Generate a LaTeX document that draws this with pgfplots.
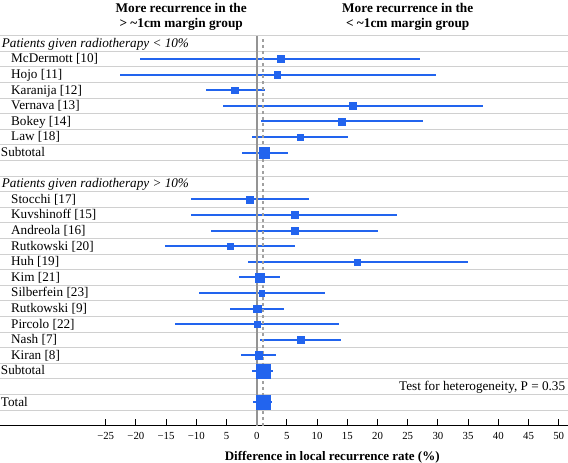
\documentclass[border=0pt]{standalone}
\usepackage{fontspec}
\setmainfont{Liberation Serif}
\usepackage{pgfplots}
\usepackage{pgfplotstable}
\pgfplotsset{compat=1.18}
\definecolor{myblue}{RGB}{34,100,238}
\definecolor{zerogray}{RGB}{148,148,148}
\definecolor{dashgray}{RGB}{160,160,160}
\definecolor{gridgray}{RGB}{208,208,208}

\pgfplotstableread{
y    m     lo     hi    s
23.5 3.9   -19.3  27.0  7.5
22.5 3.4   -22.7  29.7  7.0
21.5 -3.65 -8.4   1.3   7.0
20.5 15.9  -5.6   37.5  7.0
19.5 14.1  0.7    27.5  7.5
18.5 7.2   -0.8   15.1  7.0
17.5 1.3   -2.5   5.1   10.5
14.5 -1.1  -10.9  8.7   7.5
13.5 6.3   -10.8  23.3  7.2
12.5 6.3   -7.6   20.1  7.0
11.5 -4.4  -15.1  6.4   7.0
10.5 16.7  -1.4   35.0  6.6
9.5  0.45  -2.9   3.9   9.0
8.5  0.8   -9.6   11.3  5.8
7.5  0.05  -4.4   4.6   8.0
6.5  0.05  -13.5  13.6  7.0
5.5  7.3   0.55   14.0  8.0
4.5  0.35  -2.6   3.2   8.0
3.5  1.05  -0.7   2.75  14.0
1.5  1.05  -0.55  2.6   15.0
}\datatab

\begin{document}
\begin{tikzpicture}
\begin{axis}[
  at={(0,0)}, anchor=south west,
  scale only axis, width=568pt, height=390pt,
  xmin=-42.5, xmax=51.54, ymin=0, ymax=25,
  clip=false,
  axis x line=bottom, axis y line=left,
  x axis line style={-, black, line width=1pt},
  y axis line style={draw=none},
  xtick={-25,-20,...,50},
  xticklabels={−25,−20,−15,−10,5,0,5,10,15,20,25,30,35,40,45,50},
  xtick style={black, line width=0.9pt},
  tick align=inside, major tick length=6.7pt,
  xticklabel style={font=\fontsize{10.8}{12}\selectfont, yshift=-3pt},
  ytick={1,...,25}, yticklabels={}, ytick style={draw=none},
  ymajorgrids, grid style={gridgray, line width=1.1pt},
]
\addplot[
  only marks, mark=square*,
  scatter, point meta=explicit,
  scatter/use mapped color={draw=myblue, fill=myblue},
  visualization depends on={\thisrow{s}/2-0.2 \as \ms},
  scatter/@pre marker code/.append style={/tikz/mark size=\ms pt},
  error bars/.cd, x dir=both, x explicit, error mark=none,
  error bar style={draw=myblue, line width=2pt},
] table[x=m, y=y, meta=s,
  x error plus expr=\thisrow{hi}-\thisrow{m},
  x error minus expr=\thisrow{m}-\thisrow{lo}] {\datatab};

\addplot[zerogray, line width=1.9pt] coordinates {(0,0) (0,25)};
\addplot[dashgray, line width=1.6pt, dash pattern=on 3pt off 3pt] coordinates {(1.0,0) (1.0,25)};

% titles
\node[anchor=base, font=\bfseries\fontsize{13.3}{15}\selectfont] at (axis cs:-12.5,26.47) {More recurrence in the};
\node[anchor=base, font=\bfseries\fontsize{13.3}{15}\selectfont] at (axis cs:-12.5,25.54) {> \textasciitilde 1cm margin group};
\node[anchor=base, font=\bfseries\fontsize{13.3}{15}\selectfont] at (axis cs:25,26.47) {More recurrence in the};
\node[anchor=base, font=\bfseries\fontsize{13.3}{15}\selectfont] at (axis cs:25,25.54) {< \textasciitilde 1cm margin group};

% row labels
\tikzset{lab/.style={anchor=base west, inner sep=0pt, font=\fontsize{13.2}{15}\selectfont}}
\node[lab, font=\itshape\fontsize{13.2}{15}\selectfont] at (axis cs:-42.22,24.25) {Patients given radiotherapy < 10\%};
\node[lab] at (axis cs:-40.68,23.25) {McDermott [10]};
\node[lab] at (axis cs:-40.68,22.25) {Hojo [11]};
\node[lab] at (axis cs:-40.68,21.25) {Karanija [12]};
\node[lab] at (axis cs:-40.68,20.25) {Vernava [13]};
\node[lab] at (axis cs:-40.68,19.25) {Bokey [14]};
\node[lab] at (axis cs:-40.68,18.25) {Law [18]};
\node[lab] at (axis cs:-42.38,17.25) {Subtotal};
\node[lab, font=\itshape\fontsize{13.2}{15}\selectfont] at (axis cs:-42.22,15.25) {Patients given radiotherapy > 10\%};
\node[lab] at (axis cs:-40.68,14.25) {Stocchi [17]};
\node[lab] at (axis cs:-40.68,13.25) {Kuvshinoff [15]};
\node[lab] at (axis cs:-40.68,12.25) {Andreola [16]};
\node[lab] at (axis cs:-40.68,11.25) {Rutkowski [20]};
\node[lab] at (axis cs:-40.68,10.25) {Huh [19]};
\node[lab] at (axis cs:-40.68,9.25) {Kim [21]};
\node[lab] at (axis cs:-40.68,8.25) {Silberfein [23]};
\node[lab] at (axis cs:-40.68,7.25) {Rutkowski [9]};
\node[lab] at (axis cs:-40.68,6.25) {Pircolo [22]};
\node[lab] at (axis cs:-40.68,5.25) {Nash [7]};
\node[lab] at (axis cs:-40.68,4.25) {Kiran [8]};
\node[lab] at (axis cs:-42.38,3.25) {Subtotal};
\node[anchor=base east, inner sep=0pt, font=\fontsize{13.2}{15}\selectfont] at (axis cs:51.09,2.25) {Test for heterogeneity, P = 0.35};
\node[lab] at (axis cs:-42.38,1.25) {Total};

% x label
\node[anchor=base, font=\bfseries\fontsize{13}{15}\selectfont] at (axis cs:12.5,-2.2) {Difference in local recurrence rate (\%)};
\end{axis}
\pgfresetboundingbox
\path[use as bounding box] (0pt,-37.3pt) rectangle (568pt,425.7pt);
\end{tikzpicture}
\end{document}
